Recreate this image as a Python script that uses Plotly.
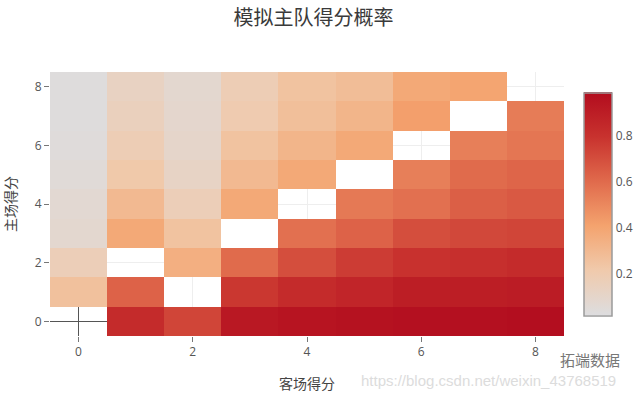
import plotly.graph_objects as go

away_goals = [0, 1, 2, 3, 4, 5, 6, 7, 8]
home_goals = [0, 1, 2, 3, 4, 5, 6, 7, 8]

# prob[home][away]
prob = [
    [None, 0.83, 0.73, 0.93, 0.95, 0.96, 0.97, 0.97, 0.98],
    [0.26, 0.63, None, 0.78, 0.83, 0.86, 0.90, 0.90, 0.91],
    [0.17, None, 0.35, 0.60, 0.70, 0.76, 0.80, 0.81, 0.83],
    [0.08, 0.38, 0.25, None, 0.58, 0.63, 0.70, 0.72, 0.73],
    [0.07, 0.30, 0.17, 0.38, None, 0.55, 0.58, 0.64, 0.66],
    [0.05, 0.22, 0.12, 0.30, 0.38, None, 0.53, 0.60, 0.62],
    [0.04, 0.18, 0.10, 0.25, 0.32, 0.38, None, 0.53, 0.56],
    [0.03, 0.15, 0.09, 0.20, 0.27, 0.32, 0.42, None, 0.54],
    [0.03, 0.13, 0.08, 0.18, 0.25, 0.28, 0.38, 0.40, None],
]

title_text = "模拟主队得分概率"
x_title = "客场得分"
y_title = "主场得分"
tick_vals = [0, 2, 4, 6, 8]
cbar_ticks = [0.2, 0.4, 0.6, 0.8]

colorscale = [
    [0.0, "rgb(221,221,223)"],
    [0.2, "rgb(240,202,172)"],
    [0.4, "rgb(244,163,110)"],
    [0.6, "rgb(224,106,76)"],
    [0.8, "rgb(200,50,46)"],
    [1.0, "rgb(178,12,30)"],
]

font_family = "Open Sans, Noto Sans CJK SC, sans-serif"

fig = go.Figure(
    go.Heatmap(
        x=away_goals,
        y=home_goals,
        z=prob,
        zmin=0.02,
        zmax=0.99,
        colorscale=colorscale,
        hoverongaps=False,
        colorbar=dict(
            thickness=28,
            len=0.92,
            y=0.5,
            outlinecolor="#9a9a9a",
            outlinewidth=1.5,
            tickvals=cbar_ticks,
            ticks="",
            tickfont=dict(size=12, color="#555"),
        ),
    )
)

fig.update_layout(
    width=640,
    height=393,
    margin=dict(l=50, r=76, t=72, b=57, autoexpand=False),
    paper_bgcolor="white",
    plot_bgcolor="white",
    font=dict(family=font_family, color="#555"),
    title=dict(
        text=title_text,
        x=0.49,
        xanchor="center",
        y=0.955,
        yanchor="middle",
        font=dict(size=20, color="#3a3a3a", family="Noto Sans CJK SC"),
    ),
)

common_axis = dict(
    range=[-0.5, 8.5],
    tickvals=tick_vals,
    ticks="outside",
    ticklen=5,
    tickcolor="#777",
    tickfont=dict(size=12, color="#555"),
    showgrid=True,
    gridcolor="#eeeeee",
    zeroline=True,
    zerolinecolor="#555",
    zerolinewidth=1,
    showline=False,
    automargin=False,
)

fig.update_xaxes(**common_axis,
                 title=dict(text=x_title, font=dict(size=14, color="#444", family="Noto Sans CJK SC"), standoff=20))
fig.update_yaxes(**common_axis,
                 title=dict(text=y_title, font=dict(size=14, color="#444", family="Noto Sans CJK SC"), standoff=14))

# watermark texts
fig.add_annotation(text="拓端数据", xref="paper", yref="paper", x=0.988, y=-0.088,
                   xanchor="left", yanchor="middle", showarrow=False,
                   font=dict(size=15, color="#777", family="Noto Sans CJK SC"))
fig.add_annotation(text="https://blog.csdn.net/weixin_43768519", xref="paper", yref="paper",
                   x=0.601, y=-0.17, xanchor="left", yanchor="middle", showarrow=False,
                   font=dict(size=15, color="#dcdcdc", family="Liberation Sans"))

fig.write_html("out.html")
